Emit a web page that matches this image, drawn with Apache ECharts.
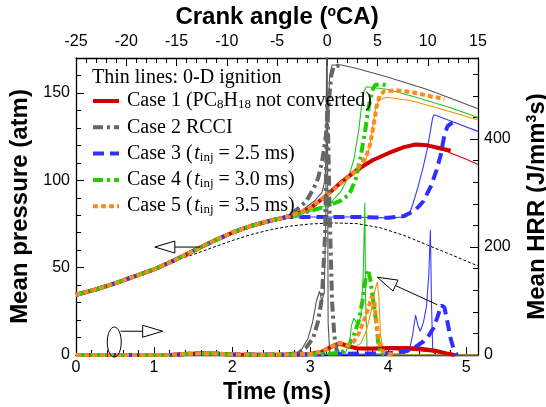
<!DOCTYPE html>
<html>
<head>
<meta charset="utf-8">
<script src="https://cdn.jsdelivr.net/npm/echarts@6/dist/echarts.min.js"></script>
<style>
    html, body {margin: 0; padding: 0; background: #fff;}
    #main {width: 546px; height: 407px;}
</style>
</head>
<body>
<div id="main"></div>
<script>
    // ---- data: [time (ms), value] ----
    // shared compression part of all fired cases (atm)
    var compression = [[0, 34.5], [0.25, 37.5], [0.5, 41], [0.75, 45], [1.0, 49], [1.25, 54], [1.5, 59.5],
        [1.75, 65], [2.0, 70], [2.25, 74], [2.5, 77], [2.7, 79]];
    var pMotoring = [[0, 34.5], [0.5, 41], [1.0, 49], [1.3, 54.5], [1.5, 57.5], [1.75, 61.5], [2.0, 65.5],
        [2.25, 69], [2.5, 71.8], [2.75, 73.8], [3.0, 75], [3.3, 75.6], [3.6, 75.2], [3.9, 72.8], [4.2, 68.5],
        [4.5, 63], [4.8, 57.5], [5.15, 51]];

    var pCase1 = compression.concat([[2.9, 82], [3.0, 84], [3.2, 91], [3.4, 99], [3.6, 106], [3.8, 111.5],
        [4.0, 115.5], [4.2, 119], [4.35, 120.5], [4.5, 120], [4.65, 118.5], [4.8, 117]]);
    var pCase1Thin = compression.concat([[2.9, 82], [3.0, 84], [3.2, 91], [3.4, 99], [3.6, 106], [3.8, 111.5],
        [4.0, 115.5], [4.2, 118.5], [4.35, 120], [4.5, 119.5], [4.75, 116.5], [5.0, 112], [5.15, 109]]);
    var pCase2 = compression.concat([[2.85, 84], [2.95, 88], [3.04, 95], [3.1, 101], [3.15, 110], [3.2, 125],
        [3.24, 145], [3.27, 160], [3.3, 165], [3.41, 166]]);
    var pCase2Thin = compression.concat([[2.9, 83], [3.05, 88], [3.15, 93], [3.19, 100], [3.22, 130], [3.25, 160],
        [3.28, 166], [3.4, 166], [3.6, 164], [4.0, 159], [4.5, 152], [4.8, 147], [5.15, 141]]);
    var pCase3 = compression.concat([[2.9, 79], [3.2, 79], [3.6, 79], [4.0, 78.5], [4.2, 79.5], [4.35, 83],
        [4.45, 88], [4.55, 97], [4.62, 106], [4.67, 114], [4.72, 126], [4.76, 131], [4.82, 133], [4.88, 133]]);
    var pCase3Thin = compression.concat([[2.9, 79], [3.5, 79], [4.0, 78.5], [4.22, 79], [4.28, 82], [4.32, 87],
        [4.38, 96], [4.45, 108], [4.5, 118], [4.54, 128], [4.57, 136], [4.59, 137.5], [4.8, 134], [5.15, 128]]);
    var pCase4 = compression.concat([[2.9, 81], [3.0, 82.5], [3.2, 85], [3.4, 88.5], [3.5, 92], [3.58, 100],
        [3.64, 112], [3.7, 127], [3.75, 142], [3.79, 151], [3.83, 154.5], [3.9, 155], [3.98, 154.5]]);
    var pCase4Thin = compression.concat([[2.9, 81], [3.1, 83.5], [3.26, 87], [3.4, 94], [3.5, 103], [3.56, 112],
        [3.62, 128], [3.66, 143], [3.69, 151], [3.72, 153.5], [4.0, 152], [4.4, 147], [4.8, 141.5], [5.15, 136]]);
    var pCase5 = compression.concat([[2.9, 82], [3.0, 84], [3.2, 91], [3.4, 98.5], [3.55, 104], [3.65, 109],
        [3.72, 114], [3.77, 121], [3.81, 131], [3.85, 142], [3.89, 148.5], [3.95, 151], [4.1, 151.5],
        [4.3, 150.5], [4.5, 148.5], [4.72, 146.5]]);
    var pCase5Thin = compression.concat([[2.9, 82], [3.0, 84], [3.2, 91], [3.4, 98.5], [3.55, 103], [3.65, 106],
        [3.71, 111], [3.76, 119], [3.8, 130], [3.84, 141], [3.88, 146], [3.98, 147.5], [4.3, 145.5],
        [4.7, 140.5], [5.15, 134.5]]);

    // heat release rate (J/mm3s)
    var hrrLow = [[0, 0], [1.2, 0], [1.4, 2], [1.6, 3], [1.8, 2.5], [2.0, 1], [2.4, 0.5]];
    var hCase1 = hrrLow.concat([[2.8, 1], [3.0, 2], [3.15, 6], [3.28, 16], [3.38, 22], [3.48, 17], [3.6, 12],
        [3.8, 12], [4.0, 13], [4.2, 13], [4.4, 12], [4.6, 8], [4.75, 3], [4.85, 0]]);
    var hCase1Thin = hrrLow.concat([[2.8, 1], [3.0, 2], [3.15, 6], [3.28, 14], [3.38, 18], [3.5, 13], [3.7, 10],
        [4.0, 10], [4.3, 9], [4.6, 5], [4.8, 1], [5.15, 0]]);
    var hCase2 = hrrLow.concat([[2.7, 1], [2.85, 4], [2.95, 14], [3.04, 32], [3.1, 62], [3.15, 105], [3.19, 220],
        [3.22, 480], [3.25, 260], [3.28, 100], [3.31, 35], [3.34, 8], [3.38, 0]]);
    var hCase2Thin = hrrLow.concat([[2.75, 1], [2.88, 8], [2.97, 30], [3.03, 60], [3.08, 100], [3.12, 118],
        [3.15, 100], [3.18, 115], [3.2, 250], [3.215, 700], [3.23, 60], [3.25, 5], [3.3, 0], [5.15, 0]]);
    var hCase3 = hrrLow.concat([[3.0, 1], [3.4, 2], [3.8, 3], [4.1, 4], [4.25, 8], [4.35, 15], [4.45, 25],
        [4.52, 36], [4.58, 50], [4.63, 70], [4.68, 92], [4.72, 88], [4.76, 60], [4.8, 30], [4.84, 10], [4.88, 0]]);
    var hCase3Thin = hrrLow.concat([[3.0, 1], [4.2, 2], [4.27, 10], [4.31, 35], [4.35, 74], [4.38, 55],
        [4.41, 44], [4.45, 60], [4.49, 90], [4.52, 150], [4.54, 232], [4.555, 90], [4.57, 10], [4.6, 0], [5.15, 0]]);
    var hCase4 = hrrLow.concat([[2.8, 1], [3.2, 2], [3.4, 4], [3.48, 14], [3.55, 33], [3.62, 62], [3.67, 100],
        [3.71, 140], [3.74, 158], [3.77, 140], [3.8, 108], [3.84, 68], [3.87, 25], [3.9, 5], [3.95, 0]]);
    var hCase4Thin = hrrLow.concat([[2.8, 1], [3.3, 2], [3.45, 4], [3.5, 20], [3.53, 55], [3.56, 68], [3.61, 55],
        [3.65, 72], [3.68, 150], [3.70, 282], [3.71, 100], [3.73, 10], [3.76, 0], [5.15, 0]]);
    var hCase5 = hrrLow.concat([[2.8, 1], [3.0, 2], [3.15, 6], [3.28, 16], [3.38, 22], [3.48, 18], [3.56, 25],
        [3.63, 42], [3.69, 65], [3.74, 85], [3.79, 108], [3.82, 100], [3.85, 60], [3.88, 25], [3.92, 8],
        [4.0, 2], [4.1, 0]]);
    var hCase5Thin = hrrLow.concat([[2.8, 1], [3.0, 2], [3.2, 8], [3.35, 18], [3.45, 15], [3.55, 12], [3.65, 22],
        [3.72, 45], [3.78, 80], [3.83, 120], [3.86, 135], [3.88, 110], [3.9, 40], [3.93, 10], [3.98, 0], [5.15, 0]]);

    var caseNames = ['Case 1', 'Case 2', 'Case 3', 'Case 4', 'Case 5'];
    var legendLabels = {
        'Case 1': '{n|Case 1 (PC}{sub|8}{n|H}{sub|18}{n| not converted)}',
        'Case 2': '{n|Case 2 RCCI}',
        'Case 3': '{n|Case 3 (\u200a}{it|t}{sub|inj}{n| = 2.5 ms)}',
        'Case 4': '{n|Case 4 (\u200a}{it|t}{sub|inj}{n| = 3.0 ms)}',
        'Case 5': '{n|Case 5 (\u200a}{it|t}{sub|inj}{n| = 3.5 ms)}'
    };
    var thinNote = 'Thin lines: 0-D ignition';

    // annotation anchors in data units
    var arrowPressure = {tip: [1.01, 61.8], tail: [1.59, 61.8]};      // left axis
    var ovalHrr = [0.49, 24];                                           // right axis
    var arrowOval = {tip: [1.11, 44], tail: [0.57, 44]};               // right axis
    var arrowHrr = {tip: [3.86, 144], tail: [4.63, 93]};               // right axis

    var SERIF = '"Times New Roman", "Liberation Serif", serif';
    var SANS = 'Arial, "Liberation Sans", sans-serif';

    var myChart = echarts.init(document.getElementById('main'));

    function line(name, data, yIdx, color, width, type, z) {
        return {
            name: name, type: 'line', xAxisIndex: 0, yAxisIndex: yIdx, data: data,
            symbol: 'none', showSymbol: false, silent: true, z: z,
            lineStyle: {color: color, width: width, type: type, cap: 'butt'},
            itemStyle: {color: color}
        };
    }

    function intLabel(step) {
        return function (v) {
            return Math.abs(v / step - Math.round(v / step)) < 1e-6 ? String(v) : '';
        };
    }

    var axisLine = {show: true, onZero: false, lineStyle: {color: '#000', width: 1.3}};
    function nameStyle(size) {
        return {
            fontFamily: SANS, fontSize: size, fontWeight: 'bold', color: '#000',
            rich: {sup: {fontFamily: SANS, fontSize: 14, fontWeight: 'bold', verticalAlign: 'top', lineHeight: 14}}
        };
    }
    var labelStyle = {fontFamily: SANS, fontSize: 16, color: '#000'};

    var red = '#d10000', gray = '#666666', blue = '#2f2fff', green = '#22cc00', orange = '#ff8a1c';
    var dashDot = [10, 4, 3, 4];

    var series = [
        // thin lines (0-D ignition)
        line('Case 1 0-D', pCase1Thin, 0, '#e00000', 1.1, 'solid', 2),
        line('Case 2 0-D', pCase2Thin, 0, '#555555', 1.1, 'solid', 2),
        line('Case 3 0-D', pCase3Thin, 0, '#3a3aff', 1.1, 'solid', 2),
        line('Case 4 0-D', pCase4Thin, 0, '#1fc81f', 1.1, 'solid', 2),
        line('Case 5 0-D', pCase5Thin, 0, '#ff8c00', 1.1, 'solid', 2),
        line('Case 1 0-D', hCase1Thin, 2, '#e00000', 1.1, 'solid', 2),
        line('Case 2 0-D', hCase2Thin, 2, '#555555', 1.1, 'solid', 2),
        line('Case 3 0-D', hCase3Thin, 2, '#3a3aff', 1.1, 'solid', 2),
        line('Case 4 0-D', hCase4Thin, 2, '#1fc81f', 1.1, 'solid', 2),
        line('Case 5 0-D', hCase5Thin, 2, '#ff8c00', 1.1, 'solid', 2),
        line('Motoring', pMotoring, 0, '#000', 1, [3, 2], 2),
        // thick lines
        line('Case 1', pCase1, 0, red, 4, 'solid', 3),
        line('Case 2', pCase2, 0, gray, 4, dashDot, 3),
        line('Case 3', pCase3, 0, blue, 4, [11, 6], 3),
        line('Case 4', pCase4, 0, green, 4, dashDot, 3),
        line('Case 5', pCase5, 0, orange, 4, [5, 3], 3),
        line('Case 1', hCase1, 2, red, 4, 'solid', 3),
        line('Case 2', hCase2, 2, gray, 4, dashDot, 3),
        line('Case 3', hCase3, 2, blue, 4, [11, 6], 3),
        line('Case 4', hCase4, 2, green, 4, dashDot, 3),
        line('Case 5', hCase5, 2, orange, 4, [5, 3], 3)
    ];

    myChart.setOption({
        animation: false,
        backgroundColor: '#fff',
        grid: {left: 76, right: 68, top: 58, bottom: 52, containLabel: false, outerBoundsMode: 'none'},
        title: {
            text: thinNote, left: 92, top: 68, padding: 0,
            textStyle: {fontFamily: SERIF, fontSize: 20, fontWeight: 'normal', color: '#000'}
        },
        legend: {
            data: caseNames,
            orient: 'vertical', left: 91, top: 91, padding: 0,
            itemWidth: 26, itemHeight: 14, itemGap: 6.3,
            selectedMode: false,
            lineStyle: {width: 4},
            itemStyle: {opacity: 0},
            formatter: function (n) { return legendLabels[n]; },
            textStyle: {
                fontFamily: SERIF, fontSize: 20, color: '#000', lineHeight: 20, padding: [0, 0, 0, 3],
                rich: {
                    n: {fontFamily: SERIF, fontSize: 20, lineHeight: 20},
                    sub: {fontFamily: SERIF, fontSize: 13, verticalAlign: 'bottom', lineHeight: 13},
                    it: {fontFamily: SERIF, fontSize: 20, fontStyle: 'italic', lineHeight: 20}
                }
            }
        },
        xAxis: [
            {
                type: 'value', position: 'bottom', min: 0, max: 5.15, interval: 1,
                name: 'Time (ms)', nameLocation: 'middle', nameGap: 26, nameTextStyle: nameStyle(23),
                axisLine: axisLine,
                axisTick: {inside: true, length: 8, lineStyle: {color: '#000'}},
                axisLabel: Object.assign({margin: 5, formatter: intLabel(1)}, labelStyle),
                splitLine: {show: false}
            },
            {
                type: 'value', position: 'bottom', min: 0, max: 5.15, interval: 0.2,
                axisLine: {show: false, onZero: false},
                axisTick: {inside: true, length: 5, lineStyle: {color: '#000'}},
                axisLabel: {show: false}, splitLine: {show: false}
            },
            {
                type: 'value', position: 'top', min: -25, max: 15, interval: 5,
                name: 'Crank angle ({sup|o}CA)', nameLocation: 'middle', nameGap: 27, nameTextStyle: nameStyle(24),
                axisLine: axisLine,
                axisTick: {inside: true, length: 8, lineStyle: {color: '#000'}},
                axisLabel: Object.assign({margin: 8}, labelStyle),
                splitLine: {show: false}
            },
            {
                type: 'value', position: 'top', min: -25, max: 15, interval: 1,
                axisLine: {show: false, onZero: false},
                axisTick: {inside: true, length: 5, lineStyle: {color: '#000'}},
                axisLabel: {show: false}, splitLine: {show: false}
            }
        ],
        yAxis: [
            {
                type: 'value', position: 'left', min: 0, max: 170, interval: 50,
                name: 'Mean pressure (atm)', nameLocation: 'middle', nameGap: 43, nameTextStyle: nameStyle(24),
                axisLine: axisLine,
                axisTick: {inside: true, length: 8, lineStyle: {color: '#000'}},
                axisLabel: Object.assign({margin: 6, formatter: intLabel(50)}, labelStyle),
                splitLine: {show: false}
            },
            {
                type: 'value', position: 'left', min: 0, max: 170, interval: 10,
                axisLine: {show: false, onZero: false},
                axisTick: {inside: true, length: 5, lineStyle: {color: '#000'}},
                axisLabel: {show: false}, splitLine: {show: false}
            },
            {
                type: 'value', position: 'right', min: 0, max: 550, interval: 200,
                name: 'Mean HRR (J/mm{sup|3}s)', nameLocation: 'middle', nameGap: 47, nameTextStyle: nameStyle(24),
                axisLine: axisLine,
                axisTick: {inside: true, length: 8, lineStyle: {color: '#000'}},
                axisLabel: Object.assign({margin: 6, formatter: intLabel(200)}, labelStyle),
                splitLine: {show: false}
            },
            {
                type: 'value', position: 'right', min: 0, max: 550, interval: 40,
                axisLine: {show: false, onZero: false},
                axisTick: {inside: true, length: 5, lineStyle: {color: '#000'}},
                axisLabel: {show: false}, splitLine: {show: false}
            }
        ],
        series: series
    });

    // annotation arrows / oval, placed through the axes
    function px(pt, yIdx) {
        return myChart.convertToPixel({xAxisIndex: 0, yAxisIndex: yIdx}, pt);
    }

    function arrow(a, yIdx) {
        var p1 = px(a.tip, yIdx), p0 = px(a.tail, yIdx);
        var dx = p1[0] - p0[0], dy = p1[1] - p0[1];
        var len = Math.sqrt(dx * dx + dy * dy);
        var ux = dx / len, uy = dy / len, nx = -uy, ny = ux;
        var L = 20, w = 6;
        var bx = p1[0] - ux * L, by = p1[1] - uy * L;
        return [
            {type: 'line', shape: {x1: p0[0], y1: p0[1], x2: bx, y2: by},
                style: {stroke: '#000', lineWidth: 1}, z: 10},
            {type: 'polygon', shape: {points: [[p1[0], p1[1]], [bx + nx * w, by + ny * w], [bx - nx * w, by - ny * w]]},
                style: {fill: '#fff', stroke: '#000', lineWidth: 1}, z: 10}
        ];
    }

    var oc = px(ovalHrr, 2);
    var graphics = [].concat(
        arrow(arrowPressure, 0),
        arrow(arrowOval, 2),
        arrow(arrowHrr, 2),
        [{type: 'ellipse', shape: {cx: oc[0], cy: oc[1], rx: 7, ry: 15},
            style: {fill: 'none', stroke: '#000', lineWidth: 1}, z: 10}]
    );
    myChart.setOption({graphic: graphics});
</script>
</body>
</html>
